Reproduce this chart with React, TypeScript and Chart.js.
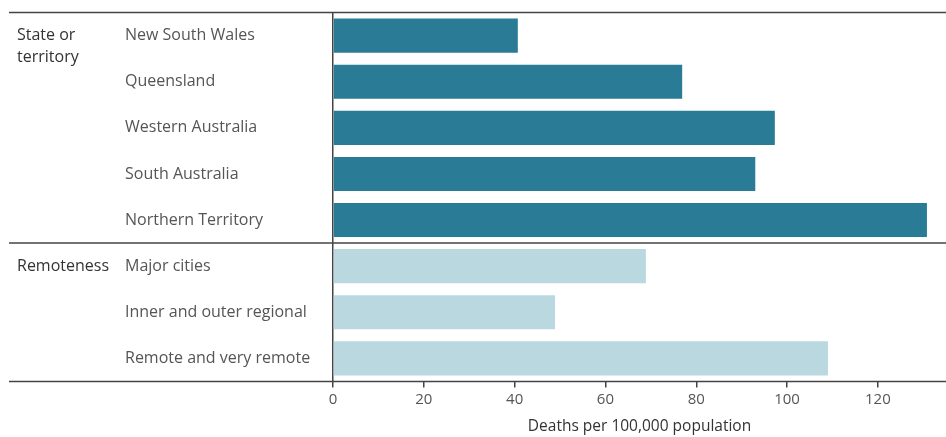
import React, { useEffect, useRef } from "react";
import { Chart, registerables } from "chart.js";

Chart.register(...registerables);

const categories = [
  "New South Wales",
  "Queensland",
  "Western Australia",
  "South Australia",
  "Northern Territory",
  "Major cities",
  "Inner and outer regional",
  "Remote and very remote",
];
const deathRates = [40.7, 76.9, 97.3, 93.0, 130.8, 68.9, 48.9, 109.0];
const groupOfCategory = [0, 0, 0, 0, 0, 1, 1, 1];
const groupLabels = [["State or", "territory"], ["Remoteness"]];
const xTicks = [0, 20, 40, 60, 80, 100, 120];
const axisTitle = "Deaths per 100,000 population";

const DARK = "#2a7b96";
const LIGHT = "#b9d8e0";
const FONT = "'Open Sans', 'Noto Sans', sans-serif";

const decorPlugin = {
  id: "decor",
  afterDraw(chart: any) {
    const { ctx, chartArea, scales } = chart;
    const y = scales.y;
    const lineLeft = 9;
    const lineRight = chart.width;
    ctx.save();
    ctx.strokeStyle = "#444";
    ctx.lineWidth = 1.5;
    const hline = (yy: number) => {
      ctx.beginPath();
      ctx.moveTo(lineLeft, yy);
      ctx.lineTo(lineRight, yy);
      ctx.stroke();
    };
    hline(chartArea.top);
    hline(chartArea.bottom);
    for (let i = 1; i < categories.length; i++) {
      if (groupOfCategory[i] !== groupOfCategory[i - 1]) {
        const yy = (y.getPixelForValue(i - 1) + y.getPixelForValue(i)) / 2;
        hline(yy);
      }
    }
    ctx.fillStyle = "#333";
    ctx.font = `16px ${FONT}`;
    ctx.textAlign = "left";
    ctx.textBaseline = "middle";
    groupLabels.forEach((lines, g) => {
      const first = groupOfCategory.indexOf(g);
      const y0 = y.getPixelForValue(first);
      lines.forEach((ln, k) => {
        ctx.fillText(ln, 17, y0 + k * 22);
      });
    });
    ctx.restore();
  },
};

export default function App() {
  const ref = useRef<HTMLCanvasElement>(null);
  useEffect(() => {
    document.body.style.margin = "0";
    const chart = new Chart(ref.current as HTMLCanvasElement, {
      type: "bar",
      data: {
        labels: categories,
        datasets: [
          {
            data: deathRates,
            backgroundColor: groupOfCategory.map((g) => (g === 0 ? DARK : LIGHT)),
            barPercentage: 0.74,
            categoryPercentage: 1,
          },
        ],
      },
      options: {
        indexAxis: "y",
        animation: false,
        responsive: false,
        maintainAspectRatio: false,
        layout: { padding: { left: 125, top: 11, right: 0, bottom: 0 } },
        plugins: { legend: { display: false }, tooltip: { enabled: false } },
        scales: {
          x: {
            min: 0,
            max: 135,
            afterBuildTicks: (scale: any) => {
              scale.ticks = xTicks.map((v) => ({ value: v }));
            },
            ticks: {
              color: "#555",
              font: { family: FONT, size: 15 },
              padding: 3,
              includeBounds: false,
            },
            grid: {
              drawOnChartArea: false,
              drawTicks: true,
              tickLength: 6,
              color: "#444",
              lineWidth: 1.5,
            },
            border: { display: false },
            title: {
              display: true,
              text: axisTitle,
              color: "#333",
              font: { family: FONT, size: 15.5 },
              padding: { top: 6, bottom: 1 },
            },
          },
          y: {
            afterFit: (scale: any) => {
              scale.width = 333 - 125;
            },
            ticks: {
              color: "#555",
              font: { family: FONT, size: 16 },
              crossAlign: "far",
            },
            grid: { display: false },
            border: { display: true, color: "#444", width: 1.5 },
          },
        },
      },
      plugins: [decorPlugin],
    });
    return () => chart.destroy();
  }, []);
  return (
    <div style={{ width: 946, height: 437 }}>
      <canvas ref={ref} width={946} height={437} style={{ display: "block" }} />
    </div>
  );
}
